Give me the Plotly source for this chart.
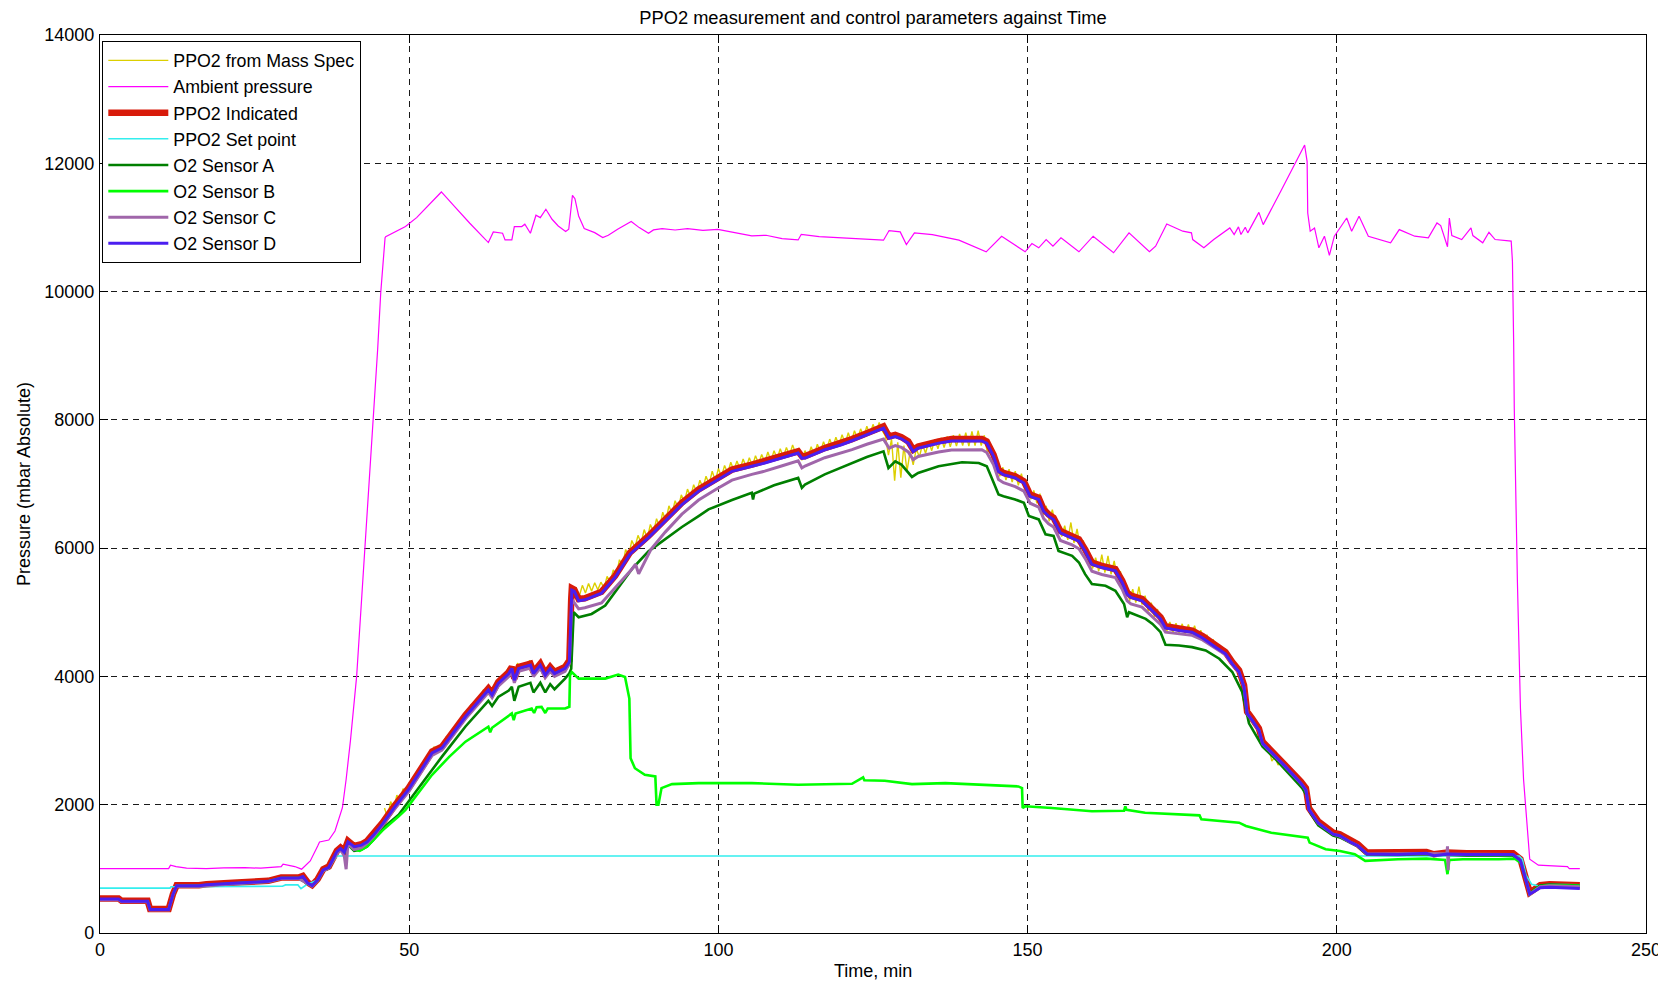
import plotly.graph_objects as go

# ---------------- data (time in min, pressure in mbar) ----------------
MASS_SPEC = [
    [46.0, 1950], [46.5, 1800], [47.0, 2050], [47.5, 1930], [48.0, 2150], [48.5, 2060], [49.0, 2250], [49.5, 2170],
    [50.0, 2340], [51.0, 2400], [52.0, 2640], [53.0, 2700], [54.0, 2900], [55.0, 2880], [56.0, 3060], [57.0, 3100],
    [58.0, 3310], [59.0, 3370], [60.0, 3560], [61.0, 3600], [62.0, 3790], [63.0, 3760], [64.0, 3900], [65.0, 3950],
    [66.0, 4130], [66.8, 3950], [67.5, 4200], [68.5, 4130], [69.5, 4250], [70.3, 4050], [71.0, 4220], [72.0, 4020],
    [73.0, 4170], [74.0, 4090], [75.0, 4190], [75.8, 4230], [76.3, 5350], [77.0, 5380], [77.5, 5250], [78.0, 5420],
    [78.5, 5300], [79.0, 5450], [79.5, 5330], [80.0, 5460], [80.5, 5350], [81.0, 5470], [81.5, 5380], [82.0, 5560],
    [82.5, 5470], [83.0, 5660], [83.5, 5580], [84.0, 5820], [84.5, 5720], [85.0, 5980], [85.5, 5880], [86.0, 6120],
    [86.5, 6010], [87.0, 6200], [87.5, 6080], [88.0, 6290], [88.5, 6150], [89.0, 6370], [89.5, 6250], [90.0, 6460],
    [90.5, 6330], [91.0, 6560], [91.5, 6420], [92.0, 6660], [92.5, 6540], [93.0, 6740], [93.5, 6620], [94.0, 6830],
    [94.5, 6720], [95.0, 6920], [95.5, 6800], [96.0, 6990], [96.5, 6870], [97.0, 7060], [97.5, 6940], [98.0, 7120],
    [98.5, 7000], [99.0, 7200], [99.5, 7050], [100.0, 7240], [100.5, 7110], [101.0, 7290], [101.5, 7170], [102.0, 7340],
    [102.5, 7210], [103.0, 7360], [103.5, 7230], [104.0, 7390], [104.5, 7260], [105.0, 7410], [105.5, 7280], [106.0, 7440],
    [106.5, 7320], [107.0, 7460], [107.5, 7340], [108.0, 7500], [108.5, 7360], [109.0, 7520], [109.5, 7390], [110.0, 7550],
    [110.5, 7420], [111.0, 7570], [111.5, 7450], [112.0, 7610], [112.5, 7470], [113.0, 7560], [113.5, 7370], [114.0, 7520],
    [114.5, 7420], [115.0, 7580], [115.5, 7450], [116.0, 7620], [116.5, 7500], [117.0, 7660], [117.5, 7530], [118.0, 7700],
    [118.5, 7570], [119.0, 7730], [119.5, 7600], [120.0, 7770], [120.5, 7630], [121.0, 7800], [121.5, 7660], [122.0, 7830],
    [122.5, 7700], [123.0, 7860], [123.5, 7730], [124.0, 7900], [124.5, 7770], [125.0, 7930], [125.5, 7800], [126.0, 7960],
    [126.5, 7830], [127.0, 7750], [127.5, 7450], [128.0, 7700], [128.5, 7050], [129.0, 7650], [129.5, 7100], [130.0, 7600],
    [130.5, 7200], [131.0, 7500], [131.5, 7300], [132.0, 7550], [132.5, 7420], [133.0, 7620], [133.5, 7480], [134.0, 7660],
    [134.5, 7520], [135.0, 7700], [135.5, 7550], [136.0, 7720], [136.5, 7570], [137.0, 7740], [137.5, 7580], [138.0, 7760],
    [138.5, 7590], [139.0, 7780], [139.5, 7600], [140.0, 7800], [140.5, 7590], [141.0, 7820], [141.5, 7600], [142.0, 7830],
    [142.5, 7600], [143.0, 7760], [143.5, 7480], [144.0, 7620], [144.5, 7300], [145.0, 7380], [145.5, 7120], [146.0, 7260],
    [146.5, 7060], [147.0, 7230], [147.5, 7030], [148.0, 7200], [148.5, 6980], [149.0, 7160], [149.5, 6950], [150.0, 7000],
    [150.5, 6760], [151.0, 6900], [151.5, 6700], [152.0, 6850], [152.5, 6520], [153.0, 6660], [153.5, 6420], [154.0, 6600],
    [154.5, 6360], [155.0, 6420], [155.5, 6180], [156.0, 6350], [156.5, 6130], [157.0, 6400], [157.5, 6080], [158.0, 6300],
    [158.5, 6020], [159.0, 6120], [159.5, 5880], [160.0, 5930], [160.5, 5680], [161.0, 5850], [161.5, 5640], [162.0, 5900],
    [162.5, 5620], [163.0, 5880], [163.5, 5590], [164.0, 5800], [164.5, 5540], [165.0, 5640], [165.5, 5380], [166.0, 5420],
    [166.5, 5180], [167.0, 5360], [167.5, 5150], [168.0, 5400], [168.5, 5120], [169.0, 5260], [169.5, 5020], [170.0, 5150],
    [170.5, 4930], [171.0, 5050], [171.5, 4830], [172.0, 4920], [172.5, 4700], [173.0, 4850], [173.5, 4680], [174.0, 4830],
    [174.5, 4670], [175.0, 4820], [175.5, 4660], [176.0, 4810], [176.5, 4650], [177.0, 4790], [177.5, 4620], [178.0, 4720],
    [178.5, 4560], [179.0, 4650], [179.5, 4480], [180.0, 4580], [180.5, 4420], [181.0, 4500], [181.5, 4350], [182.0, 4430],
    [182.5, 4250], [183.0, 4290], [183.5, 4120], [184.0, 4160], [184.5, 3950], [185.0, 3900], [185.5, 3400], [186.0, 3380],
    [186.5, 3250], [187.0, 3260], [187.5, 3100], [188.0, 3000], [188.5, 2850], [189.0, 2880], [189.5, 2680], [190.0, 2750],
    [190.5, 2620], [191.0, 2680], [191.5, 2560], [192.0, 2580], [193.0, 2470], [194.0, 2360], [195.0, 2240], [195.5, 1930],
    [197.0, 1720], [199.4, 1550], [200.5, 1520], [202.3, 1420], [203.4, 1370], [204.9, 1240], [209.9, 1235], [214.5, 1250],
    [217.9, 1240], [221.0, 1230], [228.5, 1230], [229.7, 1140], [230.6, 830], [231.2, 620], [232.0, 675], [232.9, 740],
    [234.4, 755], [239.3, 740],
]

AMBIENT = [
    [0, 1005], [11.1, 1005], [11.4, 1057], [12.3, 1036], [14.0, 1012], [17.2, 1005], [20.0, 1015], [23.4, 1020],
    [26.0, 1010], [29.3, 1036], [29.6, 1072], [31.5, 1036], [32.6, 995], [34.0, 1124], [35.2, 1357], [35.5, 1419],
    [37.0, 1450], [38.0, 1590], [39.2, 1953], [39.8, 2393], [40.5, 3000], [41.5, 4000], [42.5, 5500], [43.3, 6700],
    [43.9, 7543], [44.5, 8322], [44.9, 9100], [45.4, 9985], [45.8, 10556], [46.1, 10841], [46.2, 10857], [49.4, 11013],
    [51.2, 11153], [55.2, 11553], [57.5, 11309], [59.8, 11065], [62.8, 10764], [63.6, 10930], [65.1, 10909],
    [65.5, 10805], [66.6, 10805], [67.0, 11013], [68.2, 11013], [68.7, 11050], [69.6, 10909], [70.5, 11190],
    [71.2, 11153], [72.1, 11283], [73.1, 11127], [74.1, 11023], [75.3, 10935], [75.8, 10971], [76.4, 11501],
    [76.8, 11449], [77.4, 11179], [78.3, 10982], [80.0, 10919], [81.3, 10842], [82.2, 10878], [83.7, 10971],
    [85.9, 11091], [87.2, 10997], [88.7, 10909], [89.5, 10961], [90.9, 10982], [93.0, 10960], [95.0, 10982],
    [97.5, 10955], [99.9, 10971], [102.5, 10919], [105.4, 10867], [107.7, 10878], [110.3, 10826], [112.9, 10805],
    [113.4, 10893], [116.3, 10857], [119.2, 10842], [122.7, 10826], [126.7, 10801], [127.6, 10951], [129.4, 10930],
    [130.4, 10734], [131.7, 10915], [134.6, 10889], [138.9, 10801], [143.3, 10620], [145.8, 10863], [149.6, 10620],
    [150.7, 10749], [151.8, 10682], [153.0, 10811], [154.1, 10708], [155.4, 10837], [158.3, 10620], [160.6, 10863],
    [163.9, 10605], [166.4, 10915], [169.7, 10620], [170.7, 10708], [172.5, 11054], [175.1, 10941], [176.5, 10915],
    [176.7, 10811], [178.5, 10682], [180.1, 10811], [182.7, 10992], [183.4, 10889], [184.1, 11008], [184.5, 10889],
    [185.2, 11003], [185.6, 10915], [187.4, 11235], [188.1, 11044], [191.0, 11576], [193.5, 12026], [194.8, 12284],
    [195.2, 12026], [195.3, 11225], [195.7, 10941], [196.4, 10992], [197.1, 10682], [198.0, 10863], [198.8, 10563],
    [199.6, 10863], [200.7, 11018], [201.6, 11147], [202.4, 10941], [203.6, 11173], [205.1, 10863], [208.7, 10760],
    [210.1, 10966], [212.6, 10863], [214.8, 10837], [216.2, 11070], [216.8, 11028], [217.9, 10698], [218.2, 11147],
    [218.6, 10873], [220.2, 10811], [221.7, 10992], [222.0, 10873], [223.6, 10760], [224.6, 10925], [225.6, 10811],
    [228.2, 10786], [228.4, 10475], [228.6, 9209], [228.7, 8176], [229.2, 5500], [229.7, 3500], [230.2, 2393],
    [230.6, 1875], [231.2, 1150], [232.6, 1057], [237.3, 1036], [237.6, 1005], [239.3, 1005],
]

INDICATED_T = [
    0, 3.0, 3.5, 7.7, 8.1, 11.1, 11.8, 12.4, 16.0, 17.2,
    22.2, 27.2, 29.3, 32.1, 32.8, 33.6, 34.3, 35.2, 36.1, 37.0,
    38.3, 38.9, 39.5, 40.1, 41.1, 42.3, 43.2, 44.2, 45.7, 47.6,
    49.9, 53.7, 55.3, 59.1, 62.8, 63.4, 64.4, 66.1, 66.6, 67.0,
    67.7, 69.6, 70.1, 71.2, 72.0, 72.8, 73.5, 75.2, 75.9, 76.2,
    76.3, 76.7, 77.4, 78.4, 81.1, 83.3, 85.7, 88.7, 91.4, 94.1,
    96.8, 99.5, 102.2, 105.4, 107.5, 110.2, 112.9, 113.5, 114.0, 117.2,
    119.9, 121.6, 124.0, 126.7, 127.6, 128.6, 129.6, 130.7, 131.5, 132.3,
    135.6, 137.7, 142.6, 143.4, 144.5, 145.3, 146.1, 148.0, 149.4, 150.4,
    151.8, 152.6, 153.4, 154.2, 155.3, 157.2, 158.3, 159.3, 160.4, 162.0,
    164.2, 165.3, 166.1, 166.7, 168.5, 169.9, 171.5, 172.3, 174.5, 176.6,
    178.3, 180.4, 182.0, 183.1, 184.2, 185.0, 185.5, 186.3, 187.4, 188.0,
    189.6, 191.7, 194.2, 195.0, 195.5, 197.0, 199.4, 200.5, 202.3, 203.4,
    204.9, 206.4, 208.7, 209.9, 214.5, 215.7, 217.9, 221.0, 228.5, 229.7,
    230.6, 231.2, 232.0, 232.9, 234.4, 239.3,
]
INDICATED_P = [
    539, 539, 502, 502, 373, 373, 606, 746, 746, 761,
    787, 813, 865, 865, 891, 787, 746, 839, 995, 1036,
    1280, 1331, 1280, 1435, 1357, 1383, 1435, 1538, 1720, 1979,
    2259, 2828, 2906, 3397, 3811, 3733, 3914, 4069, 4147, 3966,
    4147, 4199, 4069, 4199, 4043, 4147, 4069, 4147, 4250, 5207,
    5373, 5352, 5207, 5218, 5321, 5569, 5931, 6190, 6448, 6707,
    6914, 7069, 7224, 7302, 7353, 7431, 7509, 7431, 7431, 7560,
    7638, 7700, 7790, 7897, 7741, 7767, 7731, 7664, 7534, 7586,
    7664, 7700, 7700, 7664, 7457, 7224, 7172, 7121, 7043, 6836,
    6785, 6604, 6526, 6474, 6267, 6190, 6138, 5983, 5776, 5724,
    5672, 5491, 5311, 5259, 5207, 5078, 4923, 4783, 4742, 4716,
    4628, 4483, 4380, 4224, 4095, 3862, 3449, 3345, 3190, 2983,
    2828, 2621, 2362, 2259, 1949, 1740, 1564, 1538, 1435, 1383,
    1254, 1254, 1254, 1243, 1264, 1228, 1254, 1243, 1243, 1150,
    839, 632, 684, 746, 761, 746,
]
SENSOR_D_P = [
    530, 530, 495, 495, 368, 368, 600, 738, 738, 752,
    778, 805, 856, 856, 880, 778, 738, 830, 985, 1025,
    1268, 1318, 1260, 1420, 1345, 1370, 1420, 1522, 1702, 1960,
    2240, 2806, 2886, 3375, 3790, 3710, 3892, 4046, 4125, 3940,
    4125, 4176, 4045, 4176, 4020, 4125, 4045, 4125, 4228, 5180,
    5345, 5325, 5180, 5195, 5298, 5545, 5906, 6165, 6422, 6680,
    6888, 7044, 7198, 7276, 7327, 7405, 7483, 7400, 7405, 7534,
    7612, 7674, 7764, 7870, 7712, 7740, 7704, 7637, 7505, 7558,
    7637, 7672, 7672, 7636, 7430, 7196, 7145, 7094, 7016, 6808,
    6758, 6576, 6498, 6447, 6240, 6162, 6110, 5956, 5748, 5697,
    5645, 5464, 5284, 5232, 5180, 5050, 4896, 4756, 4715, 4689,
    4600, 4456, 4352, 4196, 4068, 3835, 3422, 3318, 3162, 2956,
    2800, 2594, 2335, 2232, 1922, 1715, 1542, 1516, 1412, 1360,
    1232, 1232, 1232, 1222, 1242, 1206, 1232, 1222, 1222, 1128,
    815, 608, 652, 705, 712, 694,
]

SET_POINT = [
    [0, 700], [11.3, 700], [11.5, 720], [20.0, 725], [29.5, 730], [30.0, 750], [32.0, 750], [32.5, 690],
    [33.0, 720], [33.5, 760], [35.0, 820], [36.1, 960], [37.0, 1010], [38.3, 1200], [39.5, 1200],
    [229.5, 1200], [230.0, 1150], [230.6, 900], [231.5, 760], [232.6, 735], [234.4, 760], [239.3, 750],
]

SENSOR_A = [
    [0, 520], [3.0, 520], [3.5, 490], [7.7, 490], [8.1, 365], [11.1, 365], [11.8, 590], [12.4, 730],
    [16.0, 735], [22.2, 770], [27.2, 800], [29.3, 850], [32.1, 850], [33.6, 770], [34.3, 735], [35.2, 820],
    [36.1, 970], [37.0, 1010], [38.3, 1250], [38.9, 1300], [39.5, 1250], [40.1, 1380], [41.1, 1280], [42.3, 1300],
    [43.2, 1350], [44.2, 1450], [45.7, 1630], [48.3, 1845], [55.3, 2750], [59.1, 3220], [62.8, 3620], [63.4, 3540],
    [64.4, 3680], [66.1, 3780], [66.6, 3840], [67.0, 3620], [67.7, 3840], [69.6, 3900], [70.1, 3750], [71.2, 3900],
    [72.0, 3750], [72.8, 3880], [73.5, 3800], [75.2, 3966], [75.9, 4050], [76.2, 4121], [76.6, 5000], [77.4, 4923],
    [79.5, 4974], [81.7, 5104], [84.0, 5400], [86.0, 5672], [88.7, 5950], [91.4, 6138], [94.1, 6330], [96.8, 6500],
    [98.4, 6604], [102.2, 6750], [105.4, 6862], [105.6, 6760], [105.8, 6850], [109.0, 6980], [112.9, 7095],
    [113.5, 6940], [114.0, 6990], [117.2, 7150], [119.9, 7260], [121.5, 7328], [124.0, 7420], [126.7, 7509],
    [127.5, 7250], [128.6, 7353], [129.6, 7302], [131.3, 7110], [132.3, 7172], [135.6, 7276], [139.4, 7338],
    [142.1, 7328], [143.4, 7276], [144.2, 7095], [145.3, 6836], [146.1, 6810], [148.0, 6759], [149.4, 6707],
    [150.2, 6500], [151.8, 6448], [152.9, 6216], [154.2, 6190], [155.0, 5957], [157.2, 5879], [158.3, 5776],
    [159.3, 5595], [160.4, 5440], [162.6, 5414], [164.2, 5336], [165.6, 5130], [166.1, 4923], [166.4, 5000],
    [169.1, 4897], [170.2, 4819], [171.5, 4690], [172.3, 4493], [174.5, 4483], [176.6, 4457], [178.8, 4405],
    [181.0, 4276], [183.1, 4069], [184.7, 3759], [185.8, 3268], [188.0, 2906], [190.2, 2699], [194.4, 2259],
    [195.2, 2130], [195.7, 1880], [197.0, 1680], [199.4, 1520], [200.5, 1490], [202.3, 1400], [203.4, 1350],
    [204.9, 1220], [209.9, 1215], [214.5, 1230], [217.9, 1220], [221.0, 1210], [228.5, 1210], [229.7, 1120],
    [230.6, 810], [231.2, 610], [232.0, 680], [232.9, 740], [234.4, 755], [239.3, 740],
]

SENSOR_B = [
    [0, 525], [3.0, 525], [3.5, 495], [7.7, 495], [8.1, 368], [11.1, 368], [11.8, 595], [12.4, 735],
    [16.0, 740], [22.2, 775], [27.2, 805], [29.3, 855], [32.1, 855], [33.6, 775], [34.3, 740], [35.2, 825],
    [36.1, 975], [37.0, 1015], [38.3, 1250], [38.9, 1310], [39.5, 1260], [40.1, 1380], [41.1, 1300], [42.0, 1280],
    [43.2, 1350], [44.2, 1450], [45.7, 1600], [48.3, 1820], [49.4, 1920], [53.7, 2466], [56.5, 2750], [59.1, 2983],
    [61.5, 3140], [62.8, 3216], [63.1, 3130], [63.4, 3200], [66.6, 3423], [66.9, 3319], [67.2, 3420], [69.8, 3500],
    [70.2, 3430], [70.6, 3520], [71.4, 3526], [72.0, 3430], [72.4, 3500], [75.2, 3500], [75.9, 3526], [76.0, 4017],
    [76.3, 4069], [77.4, 3966], [81.7, 3966], [83.8, 4028], [84.9, 3992], [85.6, 3655], [85.8, 2724], [86.5, 2569],
    [88.1, 2466], [89.8, 2440], [90.0, 2000], [90.3, 2000], [90.8, 2259], [92.5, 2321], [96.8, 2337], [105.4, 2337],
    [112.9, 2311], [121.6, 2326], [123.4, 2425], [123.6, 2380], [126.9, 2373], [131.3, 2321], [136.7, 2337],
    [143.1, 2311], [148.5, 2285], [149.1, 2259], [149.2, 1949], [149.6, 1975], [153.9, 1949], [160.4, 1897],
    [165.6, 1907], [165.8, 1975], [166.0, 1920], [169.0, 1875], [175.5, 1845], [177.8, 1834], [178.1, 1772],
    [184.2, 1720], [185.3, 1668], [189.4, 1564], [195.3, 1487], [195.6, 1409], [198.2, 1305], [200.5, 1279],
    [202.9, 1228], [204.6, 1124], [209.9, 1150], [214.5, 1160], [217.5, 1140], [217.9, 917], [218.2, 1140],
    [220.4, 1150], [226.2, 1150], [228.8, 1160], [229.9, 1080], [230.6, 800], [231.2, 606], [232.0, 670],
    [232.9, 730], [234.4, 745], [239.3, 735],
]

SENSOR_C = [
    [0, 520], [3.0, 520], [3.5, 488], [7.7, 488], [8.1, 360], [11.1, 360], [11.8, 595], [12.4, 730],
    [16.0, 730], [22.2, 770], [27.2, 800], [29.3, 850], [32.1, 850], [33.6, 770], [34.3, 730], [35.2, 820],
    [36.1, 970], [37.0, 1010], [38.3, 1240], [38.9, 1300], [39.5, 1200], [39.8, 995], [40.1, 1400], [41.1, 1300],
    [42.3, 1330], [43.2, 1400], [44.2, 1500], [45.7, 1680], [47.6, 1930], [49.9, 2200], [53.7, 2770], [55.3, 2850],
    [59.1, 3340], [62.8, 3750], [63.4, 3670], [64.4, 3850], [66.1, 4000], [66.6, 4080], [67.0, 3900], [67.7, 4080],
    [69.6, 4130], [70.1, 4000], [71.2, 4130], [72.0, 3980], [72.8, 4080], [73.5, 4000], [75.2, 4080], [75.9, 4200],
    [76.2, 5100], [76.3, 5200], [77.4, 5052], [78.4, 5070], [81.1, 5145], [83.3, 5380], [86.0, 5672], [86.6, 5750],
    [87.1, 5600], [89.1, 5983], [91.4, 6250], [94.1, 6530], [96.8, 6750], [99.5, 6910], [102.2, 7060], [105.4, 7150],
    [107.5, 7200], [110.2, 7280], [112.9, 7360], [113.5, 7250], [114.0, 7280], [117.2, 7410], [119.9, 7490],
    [121.6, 7535], [124.0, 7620], [126.7, 7700], [127.6, 7560], [128.6, 7600], [129.6, 7570], [130.7, 7500],
    [131.5, 7380], [132.3, 7430], [135.6, 7500], [137.7, 7530], [142.6, 7535], [143.4, 7490], [144.5, 7300],
    [145.3, 7069], [146.1, 7020], [148.0, 6960], [149.4, 6890], [150.4, 6700], [151.8, 6640], [152.6, 6460],
    [153.4, 6380], [154.2, 6330], [155.3, 6120], [157.2, 6050], [158.3, 5990], [159.3, 5840], [160.4, 5640],
    [162.0, 5590], [164.2, 5540], [165.3, 5360], [166.1, 5180], [166.7, 5130], [168.5, 5080], [169.9, 4960],
    [171.5, 4810], [172.3, 4690], [174.5, 4660], [176.6, 4640], [178.3, 4570], [180.4, 4440], [182.0, 4340],
    [183.1, 4190], [184.2, 4060], [185.0, 3830], [185.5, 3420], [186.3, 3310], [187.4, 3160], [188.0, 2950],
    [189.6, 2800], [191.7, 2590], [194.2, 2330], [195.0, 2230], [195.5, 1930], [197.0, 1710], [199.4, 1540],
    [200.5, 1510], [202.3, 1410], [203.4, 1360], [204.9, 1230], [208.7, 1235], [214.5, 1240], [217.8, 1235],
    [217.9, 1350], [218.0, 980], [218.1, 1230], [228.5, 1225], [229.7, 1130], [230.6, 820], [231.2, 600],
    [232.0, 660], [232.9, 720], [234.4, 735], [239.3, 720],
]

X_TICKS = [0, 50, 100, 150, 200, 250]
Y_TICKS = [0, 2000, 4000, 6000, 8000, 10000, 12000, 14000]

TITLE = "PPO2 measurement and control parameters against Time"
X_LABEL = "Time, min"
Y_LABEL = "Pressure (mbar Absolute)"

FONT = "Liberation Sans, Arial, Helvetica, sans-serif"
FS = 18
FS_BIG = 18.3
FS_LEG = 17.8

# the page body adds an 8px margin, so the figure is 8px smaller and offset
W, H = 1658, 975
ML, MR, MT, MB = 92, 20, 27, 50


def unzip(pairs):
    return [p[0] for p in pairs], [p[1] for p in pairs]


series = [
    ("PPO2 from Mass Spec", unzip(MASS_SPEC), "#DCCF00", 1.4),
    ("Ambient pressure", unzip(AMBIENT), "#FF00FF", 1.2),
    ("PPO2 Indicated", (INDICATED_T, INDICATED_P), "#D81A0A", 6.5),
    ("PPO2 Set point", unzip(SET_POINT), "#33EEEE", 1.6),
    ("O2 Sensor A", unzip(SENSOR_A), "#007F00", 2.6),
    ("O2 Sensor B", unzip(SENSOR_B), "#00FF00", 2.6),
    ("O2 Sensor C", unzip(SENSOR_C), "#A066AA", 3.0),
    ("O2 Sensor D", (INDICATED_T, SENSOR_D_P), "#4B1EF0", 3.0),
]

fig = go.Figure()
for i, (name, (xs, ys), color, w) in enumerate(series):
    fig.add_trace(go.Scatter(
        x=xs, y=ys, mode="lines", name=name,
        line=dict(color=color, width=w),
    ))

axis_common = dict(
    showgrid=True, gridcolor="#1a1a1a", gridwidth=1, griddash="6px,5px",
    showline=True, linecolor="black", linewidth=1.3, mirror="ticks",
    ticks="inside", ticklen=8, tickcolor="black", tickwidth=1,
    zeroline=False, automargin=False,
    tickfont=dict(family=FONT, size=FS, color="black"),
)

pw = W - ML - MR
ph = H - MT - MB

fig.update_layout(
    width=W, height=H,
    margin=dict(l=ML, r=MR, t=MT, b=MB, autoexpand=False),
    paper_bgcolor="white", plot_bgcolor="white",
    font=dict(family=FONT, size=FS, color="black"),
    title=dict(text=TITLE, x=0.5, xref="paper", xanchor="center",
               y=1 - 10 / H, yref="container", yanchor="middle",
               font=dict(family=FONT, size=FS_BIG, color="black")),
    xaxis=dict(range=[0, 250], tickvals=X_TICKS, **axis_common),
    yaxis=dict(range=[0, 14000], tickvals=Y_TICKS, tickformat="d",
               ticklabelstandoff=1, **axis_common),
    showlegend=True,
    legend=dict(x=0.0013, y=0.9933, xanchor="left", yanchor="top",
                bgcolor="white", bordercolor="black", borderwidth=1.3,
                font=dict(family=FONT, size=FS_LEG, color="black"),
                itemwidth=60, traceorder="normal"),
    annotations=[
        dict(text=X_LABEL, xref="paper", yref="paper", x=0.5,
             y=-(963 - (H - MB)) / ph, xanchor="center", yanchor="middle",
             showarrow=False, font=dict(family=FONT, size=FS, color="black")),
        dict(text=Y_LABEL, xref="paper", yref="paper",
             x=-(ML - 16) / pw, y=0.5, xanchor="center", yanchor="middle",
             textangle=-90, showarrow=False,
             font=dict(family=FONT, size=FS, color="black")),
    ],
)

fig.write_html("out.html")
